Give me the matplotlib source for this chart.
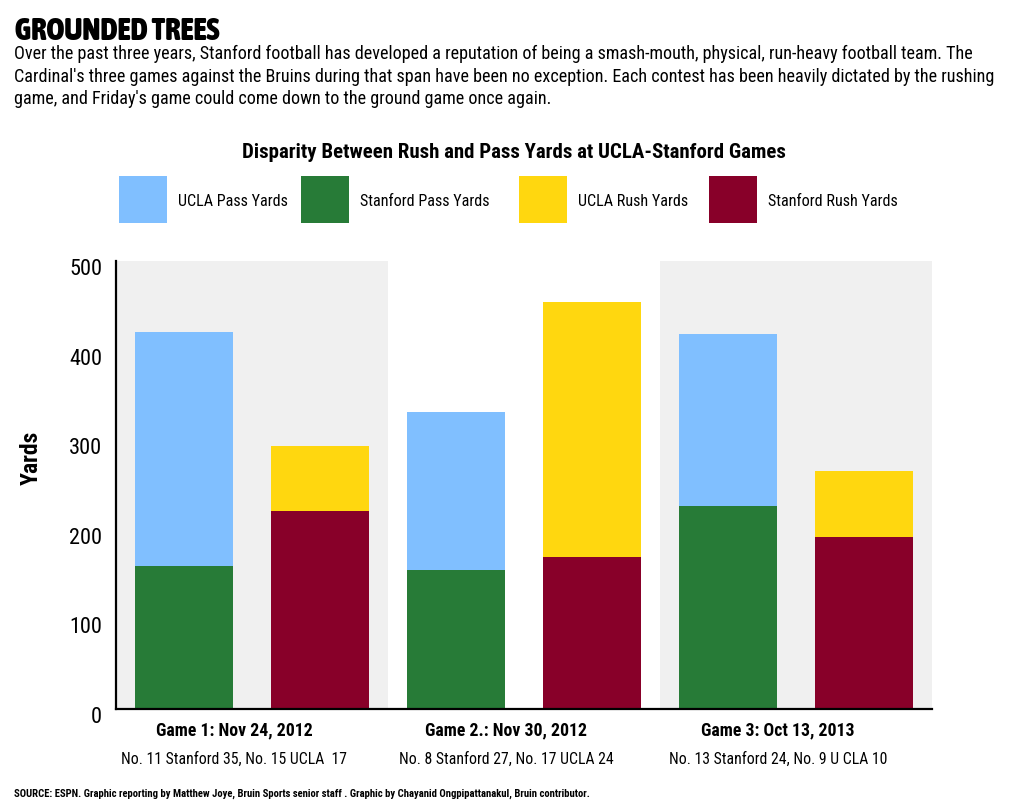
"""
Rush vs pass yards in the three UCLA-Stanford games, 2012-2013.
Produces: out.png
"""
import numpy as np
import matplotlib
matplotlib.use('Agg')
import matplotlib.pyplot as plt
from matplotlib import font_manager as fm
from matplotlib.patches import Rectangle
from matplotlib.transforms import ScaledTranslation

GAMES  = ['Game 1: Nov 24, 2012', 'Game 2.: Nov 30, 2012', 'Game 3: Oct 13, 2013']
SCORES = ['No. 11 Stanford 35, No. 15 UCLA  17',
          'No. 8 Stanford 27, No. 17 UCLA 24',
          'No. 13 Stanford 24, No. 9 U CLA 10']

stanford_pass = [160, 155, 227]
ucla_pass     = [261, 176, 191]
stanford_rush = [221, 170, 192]
ucla_rush     = [73, 284, 74]

LEGEND = ['UCLA Pass Yards', 'Stanford Pass Yards', 'UCLA Rush Yards', 'Stanford Rush Yards']
Y_TICKS = [0, 100, 200, 300, 400, 500]

BLUE   = '#80BFFF'
GREEN  = '#277B37'
YELLOW = '#FFD70F'
MAROON = '#880029'
BAND   = '#F0F0F0'

BODY = [
    "Over the past three years, Stanford football has developed a reputation of being a smash-mouth, physical, run-heavy football team. The",
    "Cardinal's three games against the Bruins during that span have been no exception. Each contest has been heavily dictated by the rushing",
    "game, and Friday's game could come down to the ground game once again.",
]
SOURCE = ('SOURCE: ESPN. Graphic reporting by Matthew Joye, Bruin Sports senior staff . '
          'Graphic by Chayanid Ongpipattanakul, Bruin contributor.')

# ── Fonts: look for a condensed face, fall back to DejaVu ─────────────────────
NARROW = ('condensed', 'semi-condensed', 'extra-condensed', 'ultra-condensed')
PREF   = ['Roboto Condensed', 'Noto Sans', 'Liberation Sans Narrow', 'DejaVu Sans', 'Open Sans']


def weight_num(w):
    return w if isinstance(w, int) else fm.weight_dict.get(w, 400)


def condensed(weight):
    best, best_key = None, None
    for f in fm.fontManager.ttflist:
        narrow = f.stretch in NARROW or 'Condensed' in f.name or 'Narrow' in f.name
        if not narrow or f.style != 'normal':
            continue
        fam_rank = next((i for i, p in enumerate(PREF) if f.name.startswith(p)), len(PREF))
        key = (abs(weight_num(f.weight) - weight), fam_rank, f.stretch != 'condensed')
        if best_key is None or key < best_key:
            best, best_key = f, key
    if best is None:
        return fm.FontProperties(family='DejaVu Sans', weight=weight)
    return fm.FontProperties(fname=best.fname)


REG  = condensed(400)
BOLD = condensed(700)
HEVY = condensed(900)

W, H = 1024, 807
fig = plt.figure(figsize=(W / 100, H / 100), dpi=100)
fig.patch.set_facecolor('white')


def fx(px):
    return px / W


def fy(py):
    return 1 - py / H


ax = fig.add_axes([fx(116), fy(709), fx(932) - fx(116), fy(261) - fy(709)])

# ── Bars ──────────────────────────────────────────────────────────────────────
x = np.arange(len(GAMES))
bw, off = 0.36, 0.25
ax.axvspan(-0.5, 0.5, color=BAND, lw=0, zorder=0)
ax.axvspan(1.5, 2.5, color=BAND, lw=0, zorder=0)
ax.bar(x - off, stanford_pass, bw, color=GREEN, zorder=2)
ax.bar(x - off, ucla_pass, bw, bottom=stanford_pass, color=BLUE, zorder=2)
ax.bar(x + off, stanford_rush, bw, color=MAROON, zorder=2)
ax.bar(x + off, ucla_rush, bw, bottom=stanford_rush, color=YELLOW, zorder=2)

ax.set_xlim(-0.5, 2.5)
ax.set_ylim(0, 500)
ax.set_facecolor('white')
for s in ('top', 'right'):
    ax.spines[s].set_visible(False)
for s in ('left', 'bottom'):
    ax.spines[s].set_color('black')
    ax.spines[s].set_linewidth(1.6)
ax.set_xticks([])
ax.set_yticks(Y_TICKS)
ax.tick_params(axis='y', length=0, pad=10)
for lab in ax.get_yticklabels():
    lab.set_fontproperties(REG)
    lab.set_fontsize(16)
    lab.set_transform(lab.get_transform() + ScaledTranslation(0, -0.06, fig.dpi_scale_trans))

ax.set_ylabel('Yards', fontproperties=BOLD, fontsize=17)
ax.yaxis.set_label_coords(-0.09, 0.56)

# ── Game labels under each pair ──────────────────────────────────────────────
shift = -0.066
for i, (g, sc) in enumerate(zip(GAMES, SCORES)):
    ax.annotate(g, xy=(x[i] + shift, 0), xycoords=('data', 'axes fraction'),
                xytext=(0, -21), textcoords='offset pixels',
                ha='center', va='center', fontproperties=BOLD, fontsize=12.8)
    ax.annotate(sc, xy=(x[i] + shift, 0), xycoords=('data', 'axes fraction'),
                xytext=(0, -50), textcoords='offset pixels',
                ha='center', va='center', fontproperties=REG, fontsize=11.3)

# ── Header, legend, footer ───────────────────────────────────────────────────
fig.text(fx(15), fy(40), 'GROUNDED TREES', fontproperties=HEVY, fontsize=22, va='baseline')
for i, line in enumerate(BODY):
    fig.text(fx(14), fy(59 + 22.5 * i), line, fontproperties=REG, fontsize=13.05, va='baseline')

fig.text(fx(514), fy(158), 'Disparity Between Rush and Pass Yards at UCLA-Stanford Games',
         fontproperties=BOLD, fontsize=15, ha='center', va='baseline')

box_x  = [119, 301, 519, 709]
colors = [BLUE, GREEN, YELLOW, MAROON]
for bx, c, lab in zip(box_x, colors, LEGEND):
    fig.add_artist(Rectangle((fx(bx), fy(223)), fx(48), fy(176) - fy(223),
                             transform=fig.transFigure, color=c, lw=0))
    fig.text(fx(bx + 59), fy(201), lab, fontproperties=REG, fontsize=11.6, va='center')

fig.text(fx(14), fy(797), SOURCE, fontproperties=BOLD, fontsize=7.7, va='baseline')

fig.savefig('out.png', dpi=100, facecolor='white')
plt.close(fig)
